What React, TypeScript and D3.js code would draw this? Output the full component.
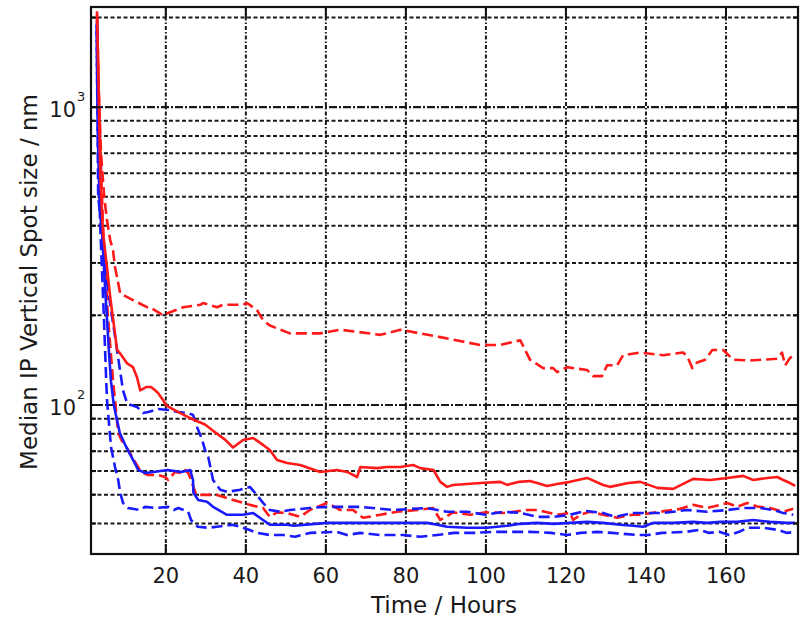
import * as d3 from 'd3';

// time (hours), median spot size (nm)
const redUpper: [number, number][] = [
  [2.8, 2100], [3.2, 1200], [3.8, 700], [4.6, 500], [5.3, 417], [6.1, 358], [6.8, 331], [7.3, 290],
  [7.8, 269], [8.6, 237], [11.8, 225], [15.3, 213], [16, 213], [19.3, 200], [20.3, 203], [23.6, 211],
  [24.3, 213], [28.6, 217], [29.3, 220], [32.8, 213], [34.3, 217], [39.3, 217], [40.3, 220], [42.8, 208],
  [44.3, 193], [45.3, 188], [46, 185], [51, 174], [58.6, 174], [63.6, 179], [73.6, 172], [78.6, 179],
  [88.6, 169], [98.6, 159], [103.6, 159], [108.6, 165], [111, 142], [114.3, 133], [116.8, 133], [117.8, 129],
  [120.3, 134], [125.3, 131], [126.8, 125], [129, 125], [130.3, 136], [132.8, 136], [134.3, 147], [138.6, 150],
  [144.3, 147], [149.3, 150], [150.3, 146], [151.6, 133], [152.8, 139], [154.8, 142], [156.6, 153], [159.3, 153],
  [161.8, 142], [166, 141], [172.8, 143], [174, 150], [174.8, 136], [176, 144], [177.3, 147],
];

const redMedian: [number, number][] = [
  [2.8, 2050], [3.3, 1000], [3.6, 600], [4.3, 378], [5.3, 290], [6.1, 230], [7.3, 174], [7.8, 153],
  [8.6, 149], [10.3, 138], [11.8, 134], [12.8, 124], [13.6, 112], [15.2, 115], [16.3, 115], [17.3, 112],
  [18, 110], [19.3, 104], [20, 100], [22.3, 96], [25.6, 91], [28, 88], [29.8, 86], [31.8, 82],
  [34.8, 76.5], [36.8, 72], [39.3, 76.3], [41.8, 77.5], [43.6, 74.6], [46, 70.6], [47.8, 65.4], [50.3, 63.9],
  [53.6, 62.9], [58.6, 59.6], [62.8, 60.5], [65.3, 59.6], [67.8, 57.3], [68.6, 61.9], [72.8, 61.4], [75.3, 61.9],
  [78.6, 61.9], [81.8, 62.9], [83.6, 61.4], [86.9, 60.5], [88.6, 55.2], [90.3, 53.1], [91.8, 53.9], [98.6, 54.7],
  [103.6, 55.2], [105.3, 53.9], [108.3, 55.2], [111, 55.6], [112.8, 54.7], [115.3, 53.5], [117.8, 54.3], [121, 55.2],
  [125.3, 56.9], [129.3, 53.9], [131, 53.1], [135.6, 54.7], [138.6, 55.2], [142.8, 52.7], [146.8, 52.3], [151.8, 56.5],
  [156, 56], [160.3, 56.9], [164.3, 57.8], [166.8, 56], [170.3, 56.9], [172.8, 57.3], [174.3, 56], [176, 54.7],
  [177.3, 53.5],
];

const redLower: [number, number][] = [
  [2.8, 2000], [3.5, 800], [4.3, 400], [5.5, 200], [6.8, 121], [7.6, 94], [8.1, 80.5], [8.9, 76.3],
  [10.6, 70.6], [12.3, 64.4], [13.8, 59.6], [15.6, 58.2], [18.1, 58.2], [19.8, 57.3], [20.6, 56], [22.3, 59.6],
  [23.8, 59.1], [24.8, 60.5], [25.6, 59.1], [26.3, 56], [27.6, 49.9], [29.8, 49.9], [32.8, 49.9], [36.8, 48],
  [41, 46.2], [44.3, 45.1], [46, 42.1], [47.8, 43.6], [50.3, 43.4], [53.6, 42.1], [56, 44.4], [60.3, 46.9],
  [63.6, 44.4], [66.8, 44.4], [69.3, 41.8], [73.6, 42.8], [77.8, 43.8], [82.8, 44.4], [86.8, 45.1], [88.6, 41.1],
  [91.8, 43.6], [96, 42.8], [100, 43.6], [105, 43.4], [110, 44.4], [113, 44.4], [117.8, 42.8], [121, 43.4],
  [121.8, 41.1], [123.6, 42.8], [126, 43.8], [129.3, 42.8], [132.8, 41.8], [136.6, 42.8], [138.6, 42.8], [143.6, 43.8],
  [148.6, 44.8], [151.8, 46.2], [155.3, 45.1], [158.6, 46.2], [160.3, 46.9], [162.8, 45.5], [165.3, 46.9], [167.8, 45.6],
  [171, 45.1], [174.3, 43.8], [176.8, 44.8],
];

const blueUpper: [number, number][] = [
  [2.7, 1900], [3.1, 500], [4.1, 378], [4.3, 331], [5.3, 257], [6.6, 197], [7.8, 153], [9.3, 112],
  [10.3, 101.6], [11.3, 100], [12.8, 98.5], [14.3, 94], [15.6, 94.7], [18.1, 97], [20.6, 96.2], [23.1, 94.7],
  [25.6, 94], [26.8, 92.6], [27.8, 84.4], [29.1, 76.3], [29.8, 70.6], [30.6, 66.9], [31.8, 56], [33.6, 51.9],
  [35.3, 51.1], [38.6, 51.9], [41, 53.1], [42.3, 50.7], [44.3, 46.9], [46, 44.4], [48.6, 43.8], [51, 44.4],
  [56, 45.1], [60.3, 45.5], [68.6, 45.5], [76.8, 44.4], [85.3, 45.1], [90.3, 43.8], [95.3, 43.8], [100, 42.8],
  [104.3, 43.8], [108.6, 43.4], [112.8, 42.1], [117, 42.1], [121, 42.8], [124.8, 44.1], [129.3, 43.4], [132.3, 42.1],
  [136.6, 43.4], [140, 43.4], [144.3, 43.4], [150.3, 44.4], [155.3, 43.8], [160.3, 44.4], [164.3, 45.1], [168.6, 45.1],
  [171.8, 44.4], [174.3, 43.4], [176.8, 42.8],
];

const blueMedian: [number, number][] = [
  [2.8, 1950], [3.2, 900], [3.8, 450], [4.8, 250], [5.8, 150], [6.3, 120], [7, 100], [8.5, 80.5],
  [10.1, 72.3], [11.8, 65.4], [13.1, 60.5], [15, 59.1], [17, 59.6], [20.5, 60.5], [23.8, 59.6], [26.1, 60.5],
  [26.3, 59.1], [26.8, 56], [26.9, 50.7], [28.1, 48], [30.3, 47.3], [31.8, 45.5], [35.3, 42.8], [39.3, 42.8],
  [41.8, 43.4], [44.3, 41.1], [46, 39.6], [50.3, 39.6], [52, 39.3], [60.3, 40.2], [68.6, 40.2], [76.8, 40.2],
  [85.3, 40.2], [87.8, 39.6], [90.3, 39], [95.3, 38.7], [100.3, 38.7], [105.3, 39.3], [108.6, 39.9], [112.8, 40.2],
  [117, 39.9], [121, 40.2], [125.3, 40.5], [129.3, 40.2], [133.6, 39.6], [136.8, 39.3], [139.3, 39], [141.8, 40.2],
  [146.8, 40.2], [151.8, 40.5], [155.3, 40.2], [158.6, 40.5], [162.8, 40.5], [166.8, 41.1], [171, 40.5], [175.3, 40.2],
  [177.3, 40.2],
];

const blueLower: [number, number][] = [
  [2.7, 1800], [3, 800], [3.6, 400], [4.5, 200], [5.1, 121], [5.3, 104], [6.3, 72.3], [7.3, 61.9],
  [8.1, 56], [8.6, 50.7], [9.3, 46.9], [10.6, 45.1], [13.6, 44.4], [14.8, 45.5], [17.3, 45.1], [20.6, 45.5],
  [22, 44.4], [23.1, 45.1], [25.6, 43.8], [26.3, 41.1], [28, 39], [30.6, 38.7], [32.8, 39], [36.6, 39.6],
  [38.6, 39], [40.8, 38.1], [42.8, 37.2], [46, 36.6], [49.3, 36.6], [52.3, 36.1], [56, 37.2], [62.8, 37.5],
  [65.3, 36.6], [68.6, 37.2], [73.6, 36.6], [79.3, 36.6], [83.6, 36.1], [87.8, 36.6], [92, 37.2], [97, 37.2],
  [101.8, 37.5], [106, 37.5], [111, 37.5], [116.3, 37.2], [120.3, 36.6], [123.6, 37.2], [127.8, 37.5], [131.6, 37.2],
  [137.8, 36.6], [140.6, 36.6], [144, 37.2], [150, 37.5], [153.3, 38.1], [155.8, 37.2], [158.3, 37.5], [160.8, 36.6],
  [163.3, 37.5], [165.3, 38.7], [169.3, 38.7], [172.8, 38.1], [175.3, 37.2], [177.3, 37.5],
];

const xTicks = [20, 40, 60, 80, 100, 120, 140, 160];
const yDecades = [100, 1000];
const yMinor = [40, 50, 60, 70, 80, 90, 200, 300, 400, 500, 600, 700, 800, 900, 2000];

const series = [
  { data: redUpper, color: '#ff1a1a', dash: '11,5' },
  { data: redLower, color: '#ff1a1a', dash: '11,5' },
  { data: blueUpper, color: '#1a1aff', dash: '11,5' },
  { data: blueLower, color: '#1a1aff', dash: '11,5' },
  { data: blueMedian, color: '#1a1aff', dash: null },
  { data: redMedian, color: '#ff1a1a', dash: null },
];

const left = 91, right = 798, top = 7, bottom = 554;
const font = '"DejaVu Sans", sans-serif';

export default function App() {
  const x = d3.scaleLinear().domain([1.3, 178]).range([left, right]);
  const y = d3.scaleLog().domain([31.6, 2170]).range([bottom, top]);
  const line = d3.line<[number, number]>().x(d => x(d[0])).y(d => y(d[1]));

  return (
    <svg width={803} height={617} style={{ position: 'absolute', left: 0, top: 0, background: '#fff' }}>
      <defs>
        <clipPath id="plot">
          <rect x={left} y={top} width={right - left} height={bottom - top} />
        </clipPath>
      </defs>
      <rect x={0} y={0} width={803} height={617} fill="#fff" />

      {/* grid */}
      <g stroke="#1a1a1a" strokeWidth={2} fill="none">
        {yMinor.map(v => (
          <line key={'m' + v} x1={left} x2={right} y1={y(v)} y2={y(v)} strokeDasharray="4,2.5" />
        ))}
        {xTicks.map(t => (
          <line key={'x' + t} x1={x(t)} x2={x(t)} y1={top} y2={bottom} strokeDasharray="4,2,1.5,2" />
        ))}
        {yDecades.map(v => (
          <line key={'d' + v} x1={left} x2={right} y1={y(v)} y2={y(v)} strokeDasharray="8,2,2,2" strokeWidth={2.2} />
        ))}
      </g>

      {/* series */}
      <g clipPath="url(#plot)" fill="none" strokeWidth={2.6} strokeLinejoin="round">
        {series.map((s, i) => (
          <path key={i} d={line(s.data) || ''} stroke={s.color} strokeDasharray={s.dash || undefined} />
        ))}
      </g>

      {/* ticks */}
      <g stroke="#111" strokeWidth={2}>
        {xTicks.map(t => (
          <g key={'t' + t}>
            <line x1={x(t)} x2={x(t)} y1={top} y2={top + 10} />
            <line x1={x(t)} x2={x(t)} y1={bottom} y2={bottom - 10} />
          </g>
        ))}
        {yDecades.map(v => (
          <g key={'td' + v}>
            <line x1={left} x2={left + 10} y1={y(v)} y2={y(v)} />
            <line x1={right} x2={right - 10} y1={y(v)} y2={y(v)} />
          </g>
        ))}
        {yMinor.map(v => (
          <g key={'tm' + v}>
            <line x1={left} x2={left + 5} y1={y(v)} y2={y(v)} />
            <line x1={right} x2={right - 5} y1={y(v)} y2={y(v)} />
          </g>
        ))}
      </g>

      {/* frame */}
      <rect x={left} y={top} width={right - left} height={bottom - top} fill="none" stroke="#111" strokeWidth={2.2} />

      {/* labels */}
      <g fontFamily={font} fill="#1a1a1a">
        {xTicks.map(t => (
          <text key={'l' + t} x={x(t)} y={583} fontSize={21} textAnchor="middle">{t}</text>
        ))}
        {yDecades.map(v => (
          <g key={'ly' + v}>
            <text x={76} y={y(v) + 10} fontSize={21} textAnchor="end">10</text>
            <text x={77} y={y(v) - 6} fontSize={13}>{Math.log10(v)}</text>
          </g>
        ))}
        <text x={444} y={613} fontSize={23} textAnchor="middle">Time / Hours</text>
        <text transform="translate(37,282) rotate(-90)" fontSize={23} textAnchor="middle">
          Median IP Vertical Spot size / nm
        </text>
      </g>
    </svg>
  );
}
